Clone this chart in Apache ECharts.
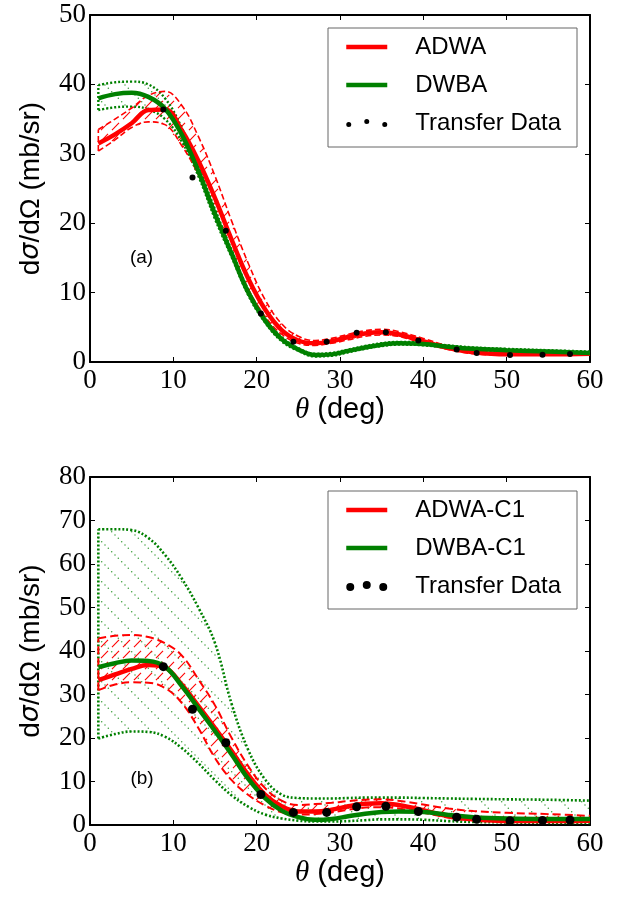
<!DOCTYPE html>
<html>
<head>
<meta charset="utf-8">
<script src="https://cdn.jsdelivr.net/npm/echarts/dist/echarts.min.js"></script>
<style>
html,body{margin:0;padding:0;background:#fff;}
#chart{width:629px;height:897px;}
</style>
</head>
<body>
<div id="chart"></div>
<script>
// ---------- data ----------
const theta = [1,3,5,7,9,11,13,15,17,19,21,23,25,27,29,31,33,35,37,40,43,46,50,55,60];

// panel (a)
const adwaA   = [31.5,32.8,34.4,36.3,36.4,33.4,29.0,23.6,17.6,12.0,7.6,4.6,3.1,2.7,3.0,3.6,4.1,4.3,4.0,3.0,2.0,1.4,1.1,1.1,1.2];
const adwaAUp = [33.5,35.0,36.6,38.4,39.0,37.0,32.5,26.8,20.3,14.2,9.0,5.5,3.7,3.1,3.4,4.0,4.5,4.7,4.4,3.4,2.3,1.7,1.3,1.3,1.4];
const adwaALo = [30.4,32.0,33.8,34.6,34.2,31.2,27.0,21.5,15.7,10.5,6.6,4.0,2.7,2.4,2.7,3.2,3.7,3.9,3.7,2.7,1.8,1.2,1.0,1.0,1.0];
const dwbaA   = [38.0,38.6,38.8,38.2,36.5,32.8,27.5,21.3,15.6,10.0,6.0,3.3,1.8,1.0,1.1,1.6,2.1,2.5,2.7,2.6,2.2,1.9,1.7,1.5,1.3];
const dwbaAUp = [39.9,40.3,40.4,40.0,38.0,33.8,28.2,22.0,16.1,10.4,6.3,3.6,2.0,1.2,1.3,1.8,2.3,2.7,2.9,2.8,2.4,2.1,1.9,1.7,1.5];
const dwbaALo = [36.3,36.7,36.8,36.4,35.0,31.8,26.8,20.6,15.1,9.6,5.7,3.0,1.6,0.8,0.9,1.4,1.9,2.3,2.5,2.4,2.0,1.7,1.5,1.3,1.1];

// panel (b)
const adwaB   = [33.3,34.6,35.9,36.8,36.2,32.3,27.4,22.3,17.0,11.5,7.0,4.3,3.1,3.1,3.5,4.3,4.9,5.0,4.6,3.4,2.0,1.3,0.9,0.9,1.0];
const adwaBUp = [42.9,43.5,43.7,43.2,41.8,39.0,33.5,27.5,20.0,13.5,8.5,5.6,4.6,4.8,5.1,5.5,5.8,5.9,5.6,4.7,3.8,3.2,2.8,2.5,2.1];
const adwaBLo = [31.0,32.3,32.8,32.7,31.5,28.1,22.3,15.4,10.3,6.9,4.5,2.9,2.4,2.5,2.9,3.5,4.0,4.1,3.8,2.8,1.7,1.1,0.8,0.7,0.8];
const dwbaB   = [36.3,37.2,37.8,37.7,36.4,32.0,26.8,21.6,16.2,10.6,6.2,3.3,1.8,1.2,1.4,2.0,2.6,3.0,3.1,3.0,2.3,1.8,1.5,1.4,1.4];
const dwbaBUp = [68.0,68.0,67.8,66.0,62.1,56.7,50.0,41.8,27.8,17.2,10.5,7.0,6.2,6.1,6.1,6.2,6.3,6.3,6.3,6.2,6.1,6.0,5.9,5.8,5.6];
const dwbaBLo = [19.9,20.9,21.5,21.4,20.3,17.7,14.2,10.3,6.8,4.2,2.4,1.5,1.0,0.8,0.8,0.9,1.1,1.3,1.3,1.2,0.9,0.7,0.6,0.5,0.5];

// transfer data (same in both panels)
const expTheta = [8.8,12.3,16.3,20.5,24.4,28.4,32.0,35.5,39.4,44.0,46.4,50.4,54.3,57.6];
const expXs    = [36.4,26.6,18.9,7.0,2.9,2.9,4.2,4.3,3.1,1.8,1.3,1.0,1.05,1.15];

// ---------- hatch patterns ----------
function hatch(size, color, slash, dotted, lw) {
  const c = document.createElement('canvas');
  c.width = c.height = size;
  const g = c.getContext('2d');
  g.strokeStyle = color; g.fillStyle = color; g.lineWidth = lw;
  const P = t => slash ? [t*size, size - t*size] : [t*size, t*size];
  if (dotted) {
    const n = 6;
    for (let k = 0; k < n; k++) {
      const [x, y] = P((k + 0.5) / n);
      g.beginPath(); g.arc(x, y, lw * 0.6, 0, Math.PI * 2); g.fill();
    }
  } else {
    const [x0, y0] = P(0.18), [x1, y1] = P(0.82);
    g.beginPath(); g.moveTo(x0, y0); g.lineTo(x1, y1); g.stroke();
  }
  return c;
}
const RED = '#ff0000', GREEN = '#008000';
const redHatch = hatch(11, RED, true, false, 1.1);
const greenHatch = hatch(20, 'rgba(0,128,0,0.75)', false, true, 1.3);

function pairs(xs, ys) { return xs.map((x, i) => [x, ys[i]]); }

function band(ai, lo, up, color, dash, width, pattern) {
  const edge = ys => ({
    type: 'line', xAxisIndex: ai * 2, yAxisIndex: ai * 2, data: pairs(theta, ys),
    smooth: 0.4, symbol: 'none', showSymbol: false, silent: true, z: 2,
    lineStyle: { color: color, type: dash, width: width }, itemStyle: { color: color }
  });
  return [
    { type: 'custom', coordinateSystem: 'cartesian2d', xAxisIndex: ai * 2, yAxisIndex: ai * 2,
      silent: true, z: 1, clip: true, data: [[theta[0], lo[0]]],
      renderItem: function (params, api) {
        const top = theta.map((t, i) => api.coord([t, up[i]]));
        const bot = theta.map((t, i) => api.coord([t, lo[i]])).reverse();
        return { type: 'polygon', shape: { points: top.concat(bot) },
          style: { fill: { type: 'pattern', image: pattern, repeat: 'repeat' }, stroke: null, lineWidth: 0 } };
      } },
    edge(lo), edge(up),
    { type: 'line', xAxisIndex: ai * 2, yAxisIndex: ai * 2, symbol: 'none', silent: true, z: 2,
      lineStyle: { color: color, type: dash, width: width }, itemStyle: { color: color },
      data: [[theta[0], lo[0]], [theta[0], up[0]]] }
  ];
}

function mainLine(name, ai, ys, color) {
  return { name: name, type: 'line', xAxisIndex: ai * 2, yAxisIndex: ai * 2, data: pairs(theta, ys),
    smooth: 0.4, symbol: 'none', showSymbol: false, z: 3,
    lineStyle: { color: color, width: 4.5 }, itemStyle: { color: color } };
}
function dots(ai, size) {
  return { name: 'Transfer Data', type: 'scatter', xAxisIndex: ai * 2, yAxisIndex: ai * 2,
    data: pairs(expTheta, expXs), symbol: 'circle', symbolSize: size, z: 4,
    itemStyle: { color: '#000', opacity: 1 } };
}

const grids = [
  { left: 90, top: 15, width: 500, height: 347 },
  { left: 90, top: 477, width: 500, height: 348 }
];

const tickFont = { fontFamily: 'Liberation Serif', fontSize: 27, color: '#000' };
function xAxes(gi) {
  const base = { type: 'value', gridIndex: gi, min: 0, max: 60, interval: 10,
    axisLine: { show: true, onZero: false, lineStyle: { color: '#000', width: 2 } },
    axisTick: { show: true, inside: true, length: 5, lineStyle: { color: '#000', width: 1 } },
    splitLine: { show: false } };
  return [
    Object.assign({}, base, { position: 'bottom',
      axisLabel: Object.assign({ show: true, margin: 5, showMinLabel: true, showMaxLabel: true, hideOverlap: false }, tickFont),
      name: '{i|θ} (deg)', nameLocation: 'middle', nameGap: 33,
      nameTextStyle: { fontFamily: 'Liberation Sans', fontSize: 29, color: '#000', lineHeight: 30,
        rich: { i: { fontFamily: 'Liberation Serif', fontStyle: 'italic', fontSize: 29, color: '#000', lineHeight: 30 } } } }),
    Object.assign({}, base, { position: 'top', axisLabel: { show: false } })
  ];
}
function yAxes(gi, max) {
  const base = { type: 'value', gridIndex: gi, min: 0, max: max, interval: 10,
    axisLine: { show: true, onZero: false, lineStyle: { color: '#000', width: 2 } },
    axisTick: { show: true, inside: true, length: 5, lineStyle: { color: '#000', width: 1 } },
    splitLine: { show: false } };
  return [
    Object.assign({}, base, { position: 'left',
      axisLabel: Object.assign({ show: true, margin: 4, showMinLabel: true, showMaxLabel: true, hideOverlap: false }, tickFont),
      name: 'd{s|σ}/dΩ (mb/sr)', nameLocation: 'middle', nameGap: 44, nameRotate: 90,
      nameTextStyle: { fontFamily: 'Liberation Sans', fontSize: 28, color: '#000', lineHeight: 30,
        rich: { s: { fontFamily: 'DejaVu Sans', fontStyle: 'italic', fontSize: 27, color: '#000', lineHeight: 30 } } } }),
    Object.assign({}, base, { position: 'right', axisLabel: { show: false } })
  ];
}

const dotIconA = 'path://M0,5.5a2.5,2.5 0 1,0 5,0a2.5,2.5 0 1,0 -5,0Z M18,2.5a2.5,2.5 0 1,0 5,0a2.5,2.5 0 1,0 -5,0Z M36,5.5a2.5,2.5 0 1,0 5,0a2.5,2.5 0 1,0 -5,0Z';
const dotIconB = 'path://M0,6a4,4 0 1,0 8,0a4,4 0 1,0 -8,0Z M16.5,4a4,4 0 1,0 8,0a4,4 0 1,0 -8,0Z M33,6a4,4 0 1,0 8,0a4,4 0 1,0 -8,0Z';

const hideSym = { opacity: 0, color: 'rgba(0,0,0,0)', borderWidth: 0 };
function legend(top, names, icon, ih) {
  return { show: true, orient: 'vertical', left: 344, top: top, padding: 0, itemGap: 12,
    itemWidth: 41, itemHeight: ih, z: 20, selectedMode: false,
    lineStyle: { width: 4.5 },
    data: [ { name: names[0], itemStyle: hideSym }, { name: names[1], itemStyle: hideSym }, { name: 'Transfer Data', icon: icon } ],
    textStyle: { fontFamily: 'Liberation Sans', fontSize: 24, color: '#000', lineHeight: 26, padding: [0, 0, 0, 23] } };
}

const series = [].concat(
  band(0, dwbaALo, dwbaAUp, GREEN, [2, 2], 2.4, greenHatch),
  band(0, adwaALo, adwaAUp, RED, [6, 3], 1.6, redHatch),
  [mainLine('ADWA', 0, adwaA, RED), mainLine('DWBA', 0, dwbaA, GREEN), dots(0, 6)],
  band(1, dwbaBLo, dwbaBUp, GREEN, [2, 2], 2.6, greenHatch),
  band(1, adwaBLo, adwaBUp, RED, [8, 4], 2, redHatch),
  [mainLine('ADWA-C1', 1, adwaB, RED), mainLine('DWBA-C1', 1, dwbaB, GREEN), dots(1, 9)]
);

const chart = echarts.init(document.getElementById('chart'), null, { renderer: 'canvas' });
chart.setOption({
  animation: false,
  backgroundColor: '#fff',
  grid: grids.map(g => Object.assign({ outerBoundsMode: 'none', containLabel: false }, g)),
  xAxis: xAxes(0).concat(xAxes(1)),
  yAxis: yAxes(0, 50).concat(yAxes(1, 80)),
  legend: [
    legend(34, ['ADWA', 'DWBA'], dotIconA, 8),
    legend(497, ['ADWA-C1', 'DWBA-C1'], dotIconB, 10)
  ],
  graphic: [
    { type: 'rect', z: 10, shape: { x: 328, y: 28, width: 249, height: 119 },
      style: { fill: '#fff', stroke: '#666', lineWidth: 1 } },
    { type: 'rect', z: 10, shape: { x: 328, y: 491, width: 249, height: 118 },
      style: { fill: '#fff', stroke: '#666', lineWidth: 1 } },
    { type: 'text', z: 10, x: 141.5, y: 258, style: { text: '(a)', fontFamily: 'Liberation Sans', fontSize: 19, fill: '#000', align: 'center', verticalAlign: 'middle' } },
    { type: 'text', z: 10, x: 142, y: 779, style: { text: '(b)', fontFamily: 'Liberation Sans', fontSize: 19, fill: '#000', align: 'center', verticalAlign: 'middle' } }
  ],
  series: series
});
</script>
</body>
</html>
